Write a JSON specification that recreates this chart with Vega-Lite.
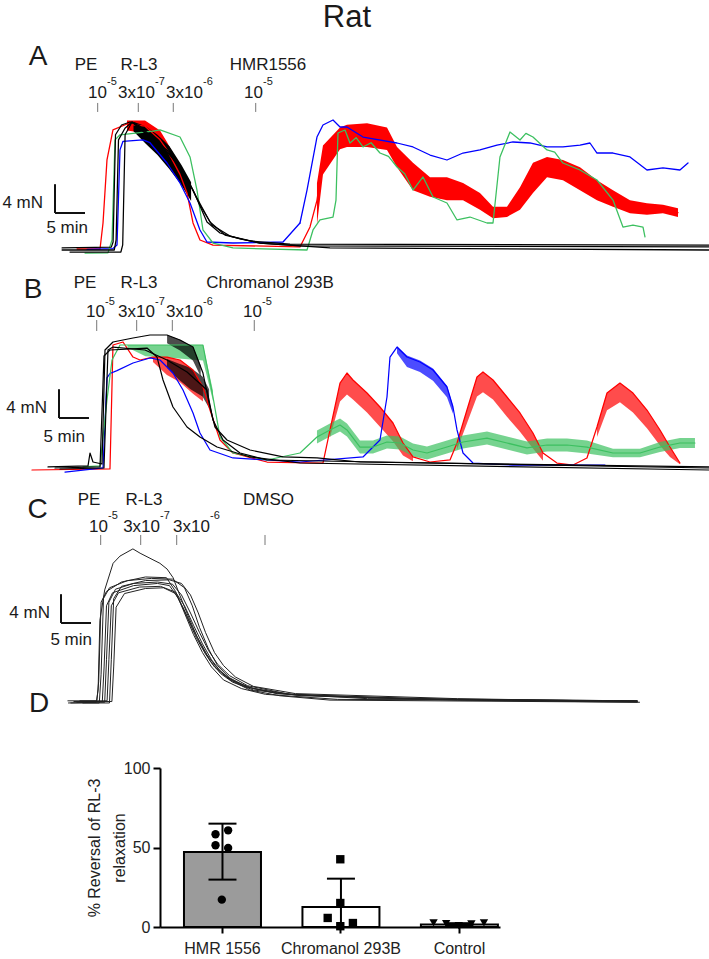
{
"$schema":"https://vega.github.io/schema/vega-lite/v6.json",
"padding":0,
"background":"white",
"config":{"view":{"stroke":null},"font":"Liberation Sans",
"axisY":{"titleFontSize":16,"titleFontWeight":"normal","titleFont":"Liberation Sans","titleColor":"#222222","titleLineHeight":25,"titlePadding":-4,"labelFontSize":16,"labelFont":"Liberation Sans","labelColor":"#222222","domainColor":"#000000","domainWidth":2,"tickColor":"#000000","tickWidth":2,"tickSize":7,"labelPadding":3,"grid":false},
"axisX":{"labelAngle":0,"labelFontSize":16,"labelFont":"Liberation Sans","labelColor":"#222222","domainColor":"#000000","domainWidth":2,"tickColor":"#000000","tickWidth":2,"tickSize":6,"labelPadding":7,"grid":false}
},
"datasets":{
"traces":[
{"p":"A","id":"Ar","s":"red","t":-3.4,"F":0.14},
{"p":"A","id":"Ar","s":"red","t":0.42,"F":0.14},
{"p":"A","id":"Ar","s":"red","t":0.92,"F":3.75},
{"p":"A","id":"Ar","s":"red","t":1.58,"F":12.5},
{"p":"A","id":"Ar","s":"red","t":2.58,"F":16.67},
{"p":"A","id":"Ar","s":"red","t":4.92,"F":17.5,"lo":16.6,"hi":18.0,"b":"Ar1"},
{"p":"A","id":"Ar","s":"red","t":7.92,"F":17.2,"lo":16.2,"hi":18.0,"b":"Ar1"},
{"p":"A","id":"Ar","s":"red","t":10.42,"F":15.3,"lo":14.2,"hi":16.6,"b":"Ar1"},
{"p":"A","id":"Ar","s":"red","t":11.58,"F":13.9,"lo":12.6,"hi":15.0,"b":"Ar1"},
{"p":"A","id":"Ar","s":"red","t":13.75,"F":10.5,"lo":9.4,"hi":11.6,"b":"Ar1"},
{"p":"A","id":"Ar","s":"red","t":14.92,"F":7.92},
{"p":"A","id":"Ar","s":"red","t":15.92,"F":3.75},
{"p":"A","id":"Ar","s":"red","t":17.08,"F":1.39},
{"p":"A","id":"Ar","s":"red","t":19.25,"F":0.69},
{"p":"A","id":"Ar","s":"red","t":33.75,"F":0.42},
{"p":"A","id":"Ar","s":"red","t":35.42,"F":3.2},
{"p":"A","id":"Ar","s":"red","t":36.58,"F":6.9,"lo":3.5,"hi":9.3,"b":"Ar2"},
{"p":"A","id":"Ar","s":"red","t":37.58,"F":12.5,"lo":10.5,"hi":14.5,"b":"Ar2"},
{"p":"A","id":"Ar","s":"red","t":40.42,"F":15.5,"lo":14.0,"hi":17.0,"b":"Ar2"},
{"p":"A","id":"Ar","s":"red","t":41.58,"F":15.8,"lo":14.3,"hi":17.4,"b":"Ar2"},
{"p":"A","id":"Ar","s":"red","t":44.92,"F":15.8,"lo":14.3,"hi":17.6,"b":"Ar2"},
{"p":"A","id":"Ar","s":"red","t":48.25,"F":15.4,"lo":13.9,"hi":17.0,"b":"Ar2"},
{"p":"A","id":"Ar","s":"red","t":49.92,"F":12.9,"lo":11.5,"hi":14.3,"b":"Ar2"},
{"p":"A","id":"Ar","s":"red","t":52.58,"F":10.2,"lo":8.3,"hi":12.1,"b":"Ar2"},
{"p":"A","id":"Ar","s":"red","t":55.42,"F":8.7,"lo":7.4,"hi":10.1,"b":"Ar2"},
{"p":"A","id":"Ar","s":"red","t":58.25,"F":8.5,"lo":6.9,"hi":10.1,"b":"Ar2"},
{"p":"A","id":"Ar","s":"red","t":60.92,"F":8.1,"lo":6.9,"hi":9.3,"b":"Ar2"},
{"p":"A","id":"Ar","s":"red","t":63.75,"F":6.7,"lo":5.6,"hi":7.9,"b":"Ar2"},
{"p":"A","id":"Ar","s":"red","t":65.92,"F":5.2,"lo":4.4,"hi":6.0,"b":"Ar2"},
{"p":"A","id":"Ar","s":"red","t":68.25,"F":5.3,"lo":4.6,"hi":6.0,"b":"Ar2"},
{"p":"A","id":"Ar","s":"red","t":70.42,"F":7.1,"lo":5.6,"hi":8.7,"b":"Ar2"},
{"p":"A","id":"Ar","s":"red","t":72.58,"F":10.0,"lo":7.9,"hi":12.1,"b":"Ar2"},
{"p":"A","id":"Ar","s":"red","t":74.92,"F":11.5,"lo":10.1,"hi":12.9,"b":"Ar2"},
{"p":"A","id":"Ar","s":"red","t":77.58,"F":11.1,"lo":9.7,"hi":12.5,"b":"Ar2"},
{"p":"A","id":"Ar","s":"red","t":80.42,"F":9.9,"lo":8.3,"hi":11.5,"b":"Ar2"},
{"p":"A","id":"Ar","s":"red","t":83.25,"F":8.3,"lo":6.9,"hi":9.7,"b":"Ar2"},
{"p":"A","id":"Ar","s":"red","t":85.92,"F":7.1,"lo":6.0,"hi":8.3,"b":"Ar2"},
{"p":"A","id":"Ar","s":"red","t":88.75,"F":6.0,"lo":5.1,"hi":6.9,"b":"Ar2"},
{"p":"A","id":"Ar","s":"red","t":91.58,"F":5.7,"lo":4.9,"hi":6.5,"b":"Ar2"},
{"p":"A","id":"Ar","s":"red","t":94.25,"F":5.7,"lo":5.1,"hi":6.3,"b":"Ar2"},
{"p":"A","id":"Ar","s":"red","t":96.75,"F":5.2,"lo":4.6,"hi":5.8,"b":"Ar2"},
{"p":"A","id":"Ab","s":"blue","t":-1.75,"F":0.1},
{"p":"A","id":"Ab","s":"blue","t":2.58,"F":0.2},
{"p":"A","id":"Ab","s":"blue","t":3.25,"F":0.7},
{"p":"A","id":"Ab","s":"blue","t":3.75,"F":13.9},
{"p":"A","id":"Ab","s":"blue","t":4.25,"F":15.1},
{"p":"A","id":"Ab","s":"blue","t":7.58,"F":15.3},
{"p":"A","id":"Ab","s":"blue","t":8.75,"F":14.9},
{"p":"A","id":"Ab","s":"blue","t":11.58,"F":12.08},
{"p":"A","id":"Ab","s":"blue","t":13.75,"F":9.31},
{"p":"A","id":"Ab","s":"blue","t":15.42,"F":6.53},
{"p":"A","id":"Ab","s":"blue","t":17.08,"F":2.78},
{"p":"A","id":"Ab","s":"blue","t":18.25,"F":1.11},
{"p":"A","id":"Ab","s":"blue","t":22.58,"F":0.97},
{"p":"A","id":"Ab","s":"blue","t":30.92,"F":1.11},
{"p":"A","id":"Ab","s":"blue","t":33.75,"F":3.75},
{"p":"A","id":"Ab2","s":"blue","t":33.75,"F":3.75},
{"p":"A","id":"Ab2","s":"blue","t":34.92,"F":8.33},
{"p":"A","id":"Ab2","s":"blue","t":36.58,"F":15.69},
{"p":"A","id":"Ab2","s":"blue","t":37.58,"F":17.36},
{"p":"A","id":"Ab2","s":"blue","t":39.25,"F":18.06},
{"p":"A","id":"Ab2","s":"blue","t":40.42,"F":17.08},
{"p":"A","id":"Ab2","s":"blue","t":41.58,"F":17.08},
{"p":"A","id":"Ab2","s":"blue","t":44.25,"F":15.69},
{"p":"A","id":"Ab2","s":"blue","t":49.92,"F":14.86},
{"p":"A","id":"Ab2","s":"blue","t":52.58,"F":14.31},
{"p":"A","id":"Ab2","s":"blue","t":55.42,"F":13.19},
{"p":"A","id":"Ab2","s":"blue","t":58.25,"F":12.5},
{"p":"A","id":"Ab2","s":"blue","t":60.92,"F":13.47},
{"p":"A","id":"Ab2","s":"blue","t":63.75,"F":13.89},
{"p":"A","id":"Ab2","s":"blue","t":66.58,"F":14.58},
{"p":"A","id":"Ab2","s":"blue","t":69.25,"F":15.0},
{"p":"A","id":"Ab2","s":"blue","t":72.08,"F":14.86},
{"p":"A","id":"Ab2","s":"blue","t":74.92,"F":14.31},
{"p":"A","id":"Ab2","s":"blue","t":77.58,"F":14.31},
{"p":"A","id":"Ab2","s":"blue","t":80.42,"F":14.58},
{"p":"A","id":"Ab2","s":"blue","t":82.08,"F":14.86},
{"p":"A","id":"Ab2","s":"blue","t":83.25,"F":13.47},
{"p":"A","id":"Ab2","s":"blue","t":85.92,"F":13.47},
{"p":"A","id":"Ab2","s":"blue","t":88.75,"F":12.92},
{"p":"A","id":"Ab2","s":"blue","t":91.58,"F":11.11},
{"p":"A","id":"Ab2","s":"blue","t":94.25,"F":11.39},
{"p":"A","id":"Ab2","s":"blue","t":97.08,"F":11.11},
{"p":"A","id":"Ab2","s":"blue","t":98.42,"F":12.08},
{"p":"A","id":"Ag","s":"green","t":-2.08,"F":-0.42},
{"p":"A","id":"Ag","s":"green","t":1.75,"F":-0.4},
{"p":"A","id":"Ag","s":"green","t":2.42,"F":1.4},
{"p":"A","id":"Ag","s":"green","t":2.92,"F":15.3},
{"p":"A","id":"Ag","s":"green","t":3.75,"F":16.0},
{"p":"A","id":"Ag","s":"green","t":9.25,"F":16.5},
{"p":"A","id":"Ag","s":"green","t":10.42,"F":16.67},
{"p":"A","id":"Ag","s":"green","t":13.75,"F":15.69},
{"p":"A","id":"Ag","s":"green","t":15.42,"F":12.92},
{"p":"A","id":"Ag","s":"green","t":16.58,"F":8.33},
{"p":"A","id":"Ag","s":"green","t":17.58,"F":2.78},
{"p":"A","id":"Ag","s":"green","t":19.25,"F":0.97},
{"p":"A","id":"Ag","s":"green","t":22.58,"F":0.28},
{"p":"A","id":"Ag","s":"green","t":34.92,"F":0},
{"p":"A","id":"Ag","s":"green","t":35.92,"F":2.78},
{"p":"A","id":"Ag","s":"green","t":37.08,"F":4.17},
{"p":"A","id":"Ag","s":"green","t":39.25,"F":4.58},
{"p":"A","id":"Ag","s":"green","t":39.75,"F":6.94},
{"p":"A","id":"Ag","s":"green","t":40.08,"F":16.25},
{"p":"A","id":"Ag","s":"green","t":41.25,"F":16.67},
{"p":"A","id":"Ag","s":"green","t":42.08,"F":14.86},
{"p":"A","id":"Ag","s":"green","t":43.1,"F":15.6},
{"p":"A","id":"Ag","s":"green","t":44.25,"F":14.31},
{"p":"A","id":"Ag","s":"green","t":45.6,"F":14.9},
{"p":"A","id":"Ag","s":"green","t":47.08,"F":13.47},
{"p":"A","id":"Ag","s":"green","t":48.5,"F":13.0},
{"p":"A","id":"Ag","s":"green","t":49.92,"F":11.53},
{"p":"A","id":"Ag","s":"green","t":51.2,"F":10.6},
{"p":"A","id":"Ag","s":"green","t":52.58,"F":8.33},
{"p":"A","id":"Ag","s":"green","t":54.25,"F":10.14},
{"p":"A","id":"Ag","s":"green","t":55.92,"F":7.36},
{"p":"A","id":"Ag","s":"green","t":58.25,"F":6.53},
{"p":"A","id":"Ag","s":"green","t":59.92,"F":4.17},
{"p":"A","id":"Ag","s":"green","t":62.08,"F":4.58},
{"p":"A","id":"Ag","s":"green","t":64.92,"F":3.75},
{"p":"A","id":"Ag","s":"green","t":65.92,"F":3.75},
{"p":"A","id":"Ag","s":"green","t":67.08,"F":12.92},
{"p":"A","id":"Ag","s":"green","t":68.75,"F":16.39},
{"p":"A","id":"Ag","s":"green","t":70.42,"F":15.28},
{"p":"A","id":"Ag","s":"green","t":71.4,"F":16.2},
{"p":"A","id":"Ag","s":"green","t":72.58,"F":15.69},
{"p":"A","id":"Ag","s":"green","t":74.92,"F":13.89},
{"p":"A","id":"Ag","s":"green","t":76.2,"F":13.6},
{"p":"A","id":"Ag","s":"green","t":77.58,"F":12.08},
{"p":"A","id":"Ag","s":"green","t":80.42,"F":11.11},
{"p":"A","id":"Ag","s":"green","t":83.25,"F":9.72},
{"p":"A","id":"Ag","s":"green","t":85.92,"F":6.94},
{"p":"A","id":"Ag","s":"green","t":87.58,"F":3.19},
{"p":"A","id":"Ag","s":"green","t":89.25,"F":3.47},
{"p":"A","id":"Ag","s":"green","t":90.92,"F":3.19},
{"p":"A","id":"Ag","s":"green","t":91.25,"F":1.81},
{"p":"A","id":"Ak1","s":"black","t":-5.9,"F":0},
{"p":"A","id":"Ak1","s":"black","t":2.8,"F":0},
{"p":"A","id":"Ak1","s":"black","t":3.1,"F":1.4},
{"p":"A","id":"Ak1","s":"black","t":3.5,"F":15.3},
{"p":"A","id":"Ak1","s":"black","t":4.58,"F":16.9},
{"p":"A","id":"Ak1","s":"black","t":5.75,"F":17.78},
{"p":"A","id":"Ak1","s":"black","t":7.08,"F":16.94},
{"p":"A","id":"Ak1","s":"black","t":8.75,"F":15.7},
{"p":"A","id":"Ak1","s":"black","t":11.58,"F":13.9},
{"p":"A","id":"Ak1","s":"black","t":13.75,"F":11.5},
{"p":"A","id":"Ak1","s":"black","t":15.92,"F":8.33},
{"p":"A","id":"Ak1","s":"black","t":18.25,"F":3.9},
{"p":"A","id":"Ak1","s":"black","t":20.42,"F":2.36},
{"p":"A","id":"Ak1","s":"black","t":23.75,"F":1.53},
{"p":"A","id":"Ak1","s":"black","t":27.08,"F":0.97},
{"p":"A","id":"Ak1","s":"black","t":33.75,"F":0.56},
{"p":"A","id":"Ak1","s":"black","t":101.9,"F":0.42},
{"p":"A","id":"Ak2","s":"black","t":-4.58,"F":-0.28},
{"p":"A","id":"Ak2","s":"black","t":3.9,"F":-0.28},
{"p":"A","id":"Ak2","s":"black","t":4.2,"F":0.7},
{"p":"A","id":"Ak2","s":"black","t":4.6,"F":16},
{"p":"A","id":"Ak2","s":"black","t":5.75,"F":17.78},
{"p":"A","id":"Ak2","s":"black","t":7.92,"F":16.25},
{"p":"A","id":"Ak2","s":"black","t":10.42,"F":14.58},
{"p":"A","id":"Ak2","s":"black","t":12.92,"F":12.5},
{"p":"A","id":"Ak2","s":"black","t":15.08,"F":9.72},
{"p":"A","id":"Ak2","s":"black","t":17.08,"F":6.25},
{"p":"A","id":"Ak2","s":"black","t":19.08,"F":3.47},
{"p":"A","id":"Ak2","s":"black","t":22.08,"F":1.94},
{"p":"A","id":"Ak2","s":"black","t":27.08,"F":0.97},
{"p":"A","id":"Ak2","s":"black","t":38.75,"F":0.28},
{"p":"A","id":"Ak2","s":"black","t":101.9,"F":0},
{"p":"A","id":"Ak3","s":"black","t":-5.9,"F":0.28},
{"p":"A","id":"Ak3","s":"black","t":2.3,"F":0.4},
{"p":"A","id":"Ak3","s":"black","t":2.6,"F":1.11},
{"p":"A","id":"Ak3","s":"black","t":3.0,"F":16},
{"p":"A","id":"Ak3","s":"black","t":4.0,"F":17.36},
{"p":"A","id":"Ak3","s":"black","t":5.42,"F":17.78},
{"p":"A","id":"Ak3","s":"black","t":7.08,"F":17.2},
{"p":"A","id":"Ak3","s":"black","t":9.58,"F":15.28},
{"p":"A","id":"Ak3","s":"black","t":12.08,"F":13.19},
{"p":"A","id":"Ak3","s":"black","t":14.58,"F":10.42},
{"p":"A","id":"Ak3","s":"black","t":16.75,"F":6.94},
{"p":"A","id":"Ak3","s":"black","t":18.75,"F":3.89},
{"p":"A","id":"Ak3","s":"black","t":21.25,"F":2.08},
{"p":"A","id":"Ak3","s":"black","t":25.42,"F":1.25},
{"p":"A","id":"Ak3","s":"black","t":32.08,"F":0.83},
{"p":"A","id":"Ak3","s":"black","t":101.9,"F":0.69},
{"p":"A","id":"Akb","s":"black","t":6.0,"lo":16.5,"hi":17.8,"b":"Akb"},
{"p":"A","id":"Akb","s":"black","t":8.0,"lo":14.8,"hi":17.2,"b":"Akb"},
{"p":"A","id":"Akb","s":"black","t":10.0,"lo":13.2,"hi":16.0,"b":"Akb"},
{"p":"A","id":"Akb","s":"black","t":12.0,"lo":11.2,"hi":14.4,"b":"Akb"},
{"p":"A","id":"Akb","s":"black","t":14.0,"lo":9.0,"hi":11.8,"b":"Akb"},
{"p":"A","id":"Akb","s":"black","t":15.6,"lo":6.8,"hi":9.4,"b":"Akb"},

{"p":"B","id":"Br","s":"red","t":-10.92,"F":0},
{"p":"B","id":"Br","s":"red","t":2.08,"F":0.14},
{"p":"B","id":"Br","s":"red","t":2.58,"F":17.36},
{"p":"B","id":"Br","s":"red","t":4.25,"F":17.78},
{"p":"B","id":"Br","s":"red","t":5.92,"F":15.69},
{"p":"B","id":"Br","s":"red","t":7.08,"F":15.28},
{"p":"B","id":"Br","s":"red","t":9.25,"F":15.69,"lo":15.0,"hi":15.69,"b":"Br1"},
{"p":"B","id":"Br","s":"red","t":11.58,"F":15.69,"lo":13.2,"hi":15.69,"b":"Br1"},
{"p":"B","id":"Br","s":"red","t":13.75,"F":15.28,"lo":12.2,"hi":15.28,"b":"Br1"},
{"p":"B","id":"Br","s":"red","t":15.92,"F":13.89,"lo":10.6,"hi":13.89,"b":"Br1"},
{"p":"B","id":"Br","s":"red","t":17.58,"F":11.53,"lo":9.5,"hi":11.53,"b":"Br1"},
{"p":"B","id":"Br","s":"red","t":18.75,"F":8.33},
{"p":"B","id":"Br","s":"red","t":20.42,"F":4.17},
{"p":"B","id":"Br","s":"red","t":22.58,"F":2.36},
{"p":"B","id":"Br","s":"red","t":28.25,"F":1.11},
{"p":"B","id":"Br","s":"red","t":37.58,"F":0.97},
{"p":"B","id":"Br","s":"red","t":38.75,"F":5.56,"lo":4.5,"hi":5.56,"b":"Br2"},
{"p":"B","id":"Br","s":"red","t":40.42,"F":12.08,"lo":9.5,"hi":12.08,"b":"Br2"},
{"p":"B","id":"Br","s":"red","t":41.58,"F":13.47,"lo":10.5,"hi":13.47,"b":"Br2"},
{"p":"B","id":"Br","s":"red","t":42.58,"F":12.5,"lo":9.8,"hi":12.5,"b":"Br2"},
{"p":"B","id":"Br","s":"red","t":44.92,"F":10.69,"lo":8.0,"hi":10.69,"b":"Br2"},
{"p":"B","id":"Br","s":"red","t":47.08,"F":8.75,"lo":6.0,"hi":8.75,"b":"Br2"},
{"p":"B","id":"Br","s":"red","t":49.25,"F":6.53,"lo":4.0,"hi":6.53,"b":"Br2"},
{"p":"B","id":"Br","s":"red","t":50.92,"F":3.75,"lo":2.0,"hi":3.75,"b":"Br2"},
{"p":"B","id":"Br","s":"red","t":52.58,"F":1.81,"lo":1.2,"hi":1.81,"b":"Br2"},
{"p":"B","id":"Br","s":"red","t":55.42,"F":1.11},
{"p":"B","id":"Br","s":"red","t":58.75,"F":1.39},
{"p":"B","id":"Br","s":"red","t":59.92,"F":3.75,"lo":2.8,"hi":3.75,"b":"Br3"},
{"p":"B","id":"Br","s":"red","t":61.58,"F":8.33,"lo":6.5,"hi":8.33,"b":"Br3"},
{"p":"B","id":"Br","s":"red","t":63.25,"F":12.92,"lo":10.2,"hi":12.92,"b":"Br3"},
{"p":"B","id":"Br","s":"red","t":64.25,"F":13.61,"lo":10.8,"hi":13.61,"b":"Br3"},
{"p":"B","id":"Br","s":"red","t":65.92,"F":12.5,"lo":9.8,"hi":12.5,"b":"Br3"},
{"p":"B","id":"Br","s":"red","t":68.25,"F":10.14,"lo":7.4,"hi":10.14,"b":"Br3"},
{"p":"B","id":"Br","s":"red","t":70.42,"F":7.92,"lo":5.3,"hi":7.92,"b":"Br3"},
{"p":"B","id":"Br","s":"red","t":72.58,"F":5.14,"lo":3.0,"hi":5.14,"b":"Br3"},
{"p":"B","id":"Br","s":"red","t":74.25,"F":2.36,"lo":1.3,"hi":2.36,"b":"Br3"},
{"p":"B","id":"Br","s":"red","t":76.58,"F":0.97},
{"p":"B","id":"Br","s":"red","t":79.25,"F":0.69},
{"p":"B","id":"Br","s":"red","t":81.58,"F":1.67},
{"p":"B","id":"Br","s":"red","t":83.25,"F":5.97,"lo":4.6,"hi":5.97,"b":"Br4"},
{"p":"B","id":"Br","s":"red","t":84.92,"F":10.69,"lo":8.3,"hi":10.69,"b":"Br4"},
{"p":"B","id":"Br","s":"red","t":87.08,"F":12.08,"lo":9.4,"hi":12.08,"b":"Br4"},
{"p":"B","id":"Br","s":"red","t":89.25,"F":10.69,"lo":8.0,"hi":10.69,"b":"Br4"},
{"p":"B","id":"Br","s":"red","t":91.58,"F":8.33,"lo":5.8,"hi":8.33,"b":"Br4"},
{"p":"B","id":"Br","s":"red","t":93.75,"F":5.56,"lo":3.4,"hi":5.56,"b":"Br4"},
{"p":"B","id":"Br","s":"red","t":95.42,"F":3.19,"lo":1.8,"hi":3.19,"b":"Br4"},
{"p":"B","id":"Br","s":"red","t":97.08,"F":0.97,"lo":0.8,"hi":0.97,"b":"Br4"},
{"p":"B","id":"Bb","s":"blue","t":-5.42,"F":-0.28},
{"p":"B","id":"Bb","s":"blue","t":0.92,"F":0.28},
{"p":"B","id":"Bb","s":"blue","t":1.58,"F":12.8},
{"p":"B","id":"Bb","s":"blue","t":2.08,"F":13.4},
{"p":"B","id":"Bb","s":"blue","t":3.25,"F":13.8},
{"p":"B","id":"Bb","s":"blue","t":5.92,"F":14.86},
{"p":"B","id":"Bb","s":"blue","t":8.75,"F":15.56},
{"p":"B","id":"Bb","s":"blue","t":10.42,"F":15.28},
{"p":"B","id":"Bb","s":"blue","t":12.58,"F":13.47},
{"p":"B","id":"Bb","s":"blue","t":14.25,"F":11.11},
{"p":"B","id":"Bb","s":"blue","t":15.92,"F":7.92},
{"p":"B","id":"Bb","s":"blue","t":17.08,"F":5.14},
{"p":"B","id":"Bb","s":"blue","t":18.75,"F":2.78},
{"p":"B","id":"Bb","s":"blue","t":22.58,"F":1.67},
{"p":"B","id":"Bb","s":"blue","t":33.75,"F":1.11},
{"p":"B","id":"Bb","s":"blue","t":44.25,"F":1.81},
{"p":"B","id":"Bb","s":"blue","t":47.08,"F":4.17},
{"p":"B","id":"Bb","s":"blue","t":48.25,"F":10.14},
{"p":"B","id":"Bb","s":"blue","t":48.75,"F":15.69},
{"p":"B","id":"Bb","s":"blue","t":49.92,"F":17.08,"lo":16.2,"hi":17.2,"b":"Bbb"},
{"p":"B","id":"Bb","s":"blue","t":51.58,"F":15.69,"lo":14.3,"hi":15.9,"b":"Bbb"},
{"p":"B","id":"Bb","s":"blue","t":53.75,"F":15.0,"lo":13.6,"hi":15.2,"b":"Bbb"},
{"p":"B","id":"Bb","s":"blue","t":55.92,"F":13.89,"lo":12.4,"hi":14.1,"b":"Bbb"},
{"p":"B","id":"Bb","s":"blue","t":58.25,"F":11.53,"lo":10.1,"hi":11.7,"b":"Bbb"},
{"p":"B","id":"Bb","s":"blue","t":59.25,"F":8.75,"lo":7.8,"hi":8.9,"b":"Bbb"},
{"p":"B","id":"Bb","s":"blue","t":59.92,"F":5.56},
{"p":"B","id":"Bb","s":"blue","t":60.92,"F":2.36},
{"p":"B","id":"Bb","s":"blue","t":62.58,"F":0.97},
{"p":"B","id":"Bb","s":"blue","t":69.25,"F":0.69},
{"p":"B","id":"Bb","s":"blue","t":84.58,"F":0.69},
{"p":"B","id":"Bg","s":"green","t":-2.42,"F":0.42},
{"p":"B","id":"Bg","s":"green","t":0.42,"F":0.56},
{"p":"B","id":"Bg","s":"green","t":1.58,"F":9.72},
{"p":"B","id":"Bg","s":"green","t":2.42,"F":15.28},
{"p":"B","id":"Bg","s":"green","t":3.75,"F":17.36},
{"p":"B","id":"Bg","s":"green","t":17.58,"F":17.36},
{"p":"B","id":"Bg","s":"green","t":19.25,"F":10.14},
{"p":"B","id":"Bg","s":"green","t":20.42,"F":4.58},
{"p":"B","id":"Bg","s":"green","t":22.58,"F":2.36},
{"p":"B","id":"Bg","s":"green","t":28.25,"F":1.39},
{"p":"B","id":"Bg","s":"green","t":33.75,"F":2.36},
{"p":"B","id":"Bg","s":"green","t":36.58,"F":4.58,"lo":3.68,"hi":5.48,"b":"Bg2"},
{"p":"B","id":"Bg","s":"green","t":38.75,"F":5.56,"lo":4.66,"hi":6.46,"b":"Bg2"},
{"p":"B","id":"Bg","s":"green","t":40.42,"F":6.25,"lo":5.35,"hi":7.15,"b":"Bg2"},
{"p":"B","id":"Bg","s":"green","t":41.58,"F":5.56,"lo":4.66,"hi":6.46,"b":"Bg2"},
{"p":"B","id":"Bg","s":"green","t":43.75,"F":3.19,"lo":2.29,"hi":4.09,"b":"Bg2"},
{"p":"B","id":"Bg","s":"green","t":45.92,"F":3.19,"lo":2.29,"hi":4.09,"b":"Bg2"},
{"p":"B","id":"Bg","s":"green","t":48.25,"F":3.89,"lo":2.99,"hi":4.79,"b":"Bg2"},
{"p":"B","id":"Bg","s":"green","t":50.42,"F":3.75,"lo":2.85,"hi":4.65,"b":"Bg2"},
{"p":"B","id":"Bg","s":"green","t":52.58,"F":2.78,"lo":1.88,"hi":3.68,"b":"Bg2"},
{"p":"B","id":"Bg","s":"green","t":54.92,"F":2.36,"lo":1.46,"hi":3.26,"b":"Bg2"},
{"p":"B","id":"Bg","s":"green","t":58.25,"F":3.19,"lo":2.29,"hi":4.09,"b":"Bg2"},
{"p":"B","id":"Bg","s":"green","t":60.92,"F":3.89,"lo":2.99,"hi":4.79,"b":"Bg2"},
{"p":"B","id":"Bg","s":"green","t":64.92,"F":4.44,"lo":3.54,"hi":5.34,"b":"Bg2"},
{"p":"B","id":"Bg","s":"green","t":68.25,"F":3.75,"lo":2.85,"hi":4.65,"b":"Bg2"},
{"p":"B","id":"Bg","s":"green","t":71.58,"F":3.06,"lo":2.16,"hi":3.96,"b":"Bg2"},
{"p":"B","id":"Bg","s":"green","t":74.92,"F":3.47,"lo":2.57,"hi":4.37,"b":"Bg2"},
{"p":"B","id":"Bg","s":"green","t":78.25,"F":3.47,"lo":2.57,"hi":4.37,"b":"Bg2"},
{"p":"B","id":"Bg","s":"green","t":81.58,"F":3.19,"lo":2.29,"hi":4.09,"b":"Bg2"},
{"p":"B","id":"Bg","s":"green","t":85.92,"F":2.36,"lo":1.76,"hi":2.96,"b":"Bg2"},
{"p":"B","id":"Bg","s":"green","t":90.42,"F":2.36,"lo":1.76,"hi":2.96,"b":"Bg2"},
{"p":"B","id":"Bg","s":"green","t":93.75,"F":3.19,"lo":2.49,"hi":3.89,"b":"Bg2"},
{"p":"B","id":"Bg","s":"green","t":97.08,"F":3.75,"lo":3.05,"hi":4.45,"b":"Bg2"},
{"p":"B","id":"Bg","s":"green","t":99.58,"F":3.75,"lo":3.05,"hi":4.45,"b":"Bg2"},
{"p":"B","id":"Bgb","s":"green","t":5.0,"lo":17.0,"hi":17.36,"b":"Bg1"},
{"p":"B","id":"Bgb","s":"green","t":8.0,"lo":15.8,"hi":17.36,"b":"Bg1"},
{"p":"B","id":"Bgb","s":"green","t":12.0,"lo":15.6,"hi":17.36,"b":"Bg1"},
{"p":"B","id":"Bgb","s":"green","t":17.58,"lo":15.2,"hi":17.36,"b":"Bg1"},
{"p":"B","id":"Bgb","s":"green","t":19.25,"lo":9.6,"hi":11.0,"b":"Bg1"},
{"p":"B","id":"Bk1","s":"black","t":-8.25,"F":0.42},
{"p":"B","id":"Bk1","s":"black","t":-1.58,"F":0.56},
{"p":"B","id":"Bk1","s":"black","t":-1.25,"F":2.36},
{"p":"B","id":"Bk1","s":"black","t":-0.75,"F":1.11},
{"p":"B","id":"Bk1","s":"black","t":0.75,"F":0.83},
{"p":"B","id":"Bk1","s":"black","t":1.25,"F":16.67},
{"p":"B","id":"Bk1","s":"black","t":2.58,"F":17.78},
{"p":"B","id":"Bk1","s":"black","t":5.92,"F":18.33},
{"p":"B","id":"Bk1","s":"black","t":8.75,"F":18.75},
{"p":"B","id":"Bk1","s":"black","t":11.58,"F":18.75},
{"p":"B","id":"Bk1","s":"black","t":13.75,"F":18.06},
{"p":"B","id":"Bk1","s":"black","t":15.92,"F":17.08},
{"p":"B","id":"Bk1","s":"black","t":17.58,"F":13.47},
{"p":"B","id":"Bk1","s":"black","t":18.75,"F":8.75},
{"p":"B","id":"Bk1","s":"black","t":19.58,"F":5.97},
{"p":"B","id":"Bk1","s":"black","t":21.58,"F":4.17},
{"p":"B","id":"Bk1","s":"black","t":25.42,"F":2.78},
{"p":"B","id":"Bk1","s":"black","t":30.92,"F":1.81},
{"p":"B","id":"Bk1","s":"black","t":36.58,"F":1.67},
{"p":"B","id":"Bk1","s":"black","t":43.75,"F":1.11},
{"p":"B","id":"Bk1","s":"black","t":101.9,"F":0.42},
{"p":"B","id":"Bk2","s":"black","t":-7.08,"F":0.28},
{"p":"B","id":"Bk2","s":"black","t":0.42,"F":0.42},
{"p":"B","id":"Bk2","s":"black","t":1.08,"F":15.83},
{"p":"B","id":"Bk2","s":"black","t":2.08,"F":16.67},
{"p":"B","id":"Bk2","s":"black","t":8.25,"F":16.94},
{"p":"B","id":"Bk2","s":"black","t":9.92,"F":15.69},
{"p":"B","id":"Bk2","s":"black","t":10.92,"F":12.5},
{"p":"B","id":"Bk2","s":"black","t":12.58,"F":8.75},
{"p":"B","id":"Bk2","s":"black","t":14.92,"F":5.97},
{"p":"B","id":"Bk2","s":"black","t":17.08,"F":4.58},
{"p":"B","id":"Bk2","s":"black","t":19.92,"F":3.19},
{"p":"B","id":"Bk2","s":"black","t":25.42,"F":1.81},
{"p":"B","id":"Bk2","s":"black","t":33.75,"F":0.97},
{"p":"B","id":"Bk2","s":"black","t":101.9,"F":0},
{"p":"B","id":"Bk3","s":"black","t":-6.25,"F":0.14},
{"p":"B","id":"Bk3","s":"black","t":1.08,"F":0.28},
{"p":"B","id":"Bk3","s":"black","t":1.75,"F":16.67},
{"p":"B","id":"Bk3","s":"black","t":2.58,"F":17.08},
{"p":"B","id":"Bk3","s":"black","t":7.92,"F":16.67},
{"p":"B","id":"Bk3","s":"black","t":11.58,"F":15.28},
{"p":"B","id":"Bk3","s":"black","t":14.92,"F":13.61},
{"p":"B","id":"Bk3","s":"black","t":18.25,"F":11.11},
{"p":"B","id":"Bk3","s":"black","t":19.25,"F":6.94},
{"p":"B","id":"Bk3","s":"black","t":20.92,"F":4.17},
{"p":"B","id":"Bk3","s":"black","t":23.75,"F":2.36},
{"p":"B","id":"Bk3","s":"black","t":28.25,"F":1.39},
{"p":"B","id":"Bk3","s":"black","t":101.9,"F":0.28},
{"p":"B","id":"Bkb","s":"black","t":11.6,"lo":17.6,"hi":18.75,"b":"Bkb1"},
{"p":"B","id":"Bkb","s":"black","t":13.75,"lo":16.6,"hi":18.1,"b":"Bkb1"},
{"p":"B","id":"Bkb","s":"black","t":15.9,"lo":15.2,"hi":17.1,"b":"Bkb1"},
{"p":"B","id":"Bkb","s":"black","t":17.2,"lo":13.0,"hi":14.5,"b":"Bkb1"},
{"p":"B","id":"Bkb","s":"black","t":11.58,"lo":14.2,"hi":15.4,"b":"Bkb3"},
{"p":"B","id":"Bkb","s":"black","t":13.5,"lo":12.6,"hi":14.8,"b":"Bkb3"},
{"p":"B","id":"Bkb","s":"black","t":15.5,"lo":11.2,"hi":14.2,"b":"Bkb3"},
{"p":"B","id":"Bkb","s":"black","t":17.5,"lo":10.2,"hi":13.0,"b":"Bkb3"},
{"p":"B","id":"Bkb","s":"black","t":18.6,"lo":8.6,"hi":11.2,"b":"Bkb3"},

{"p":"C","id":"C1","s":"black","t":-4.9,"F":0},
{"p":"C","id":"C1","s":"black","t":-0.2,"F":0.1},
{"p":"C","id":"C1","s":"black","t":0.1,"F":1.8},
{"p":"C","id":"C1","s":"black","t":0.4,"F":11.5},
{"p":"C","id":"C1","s":"black","t":1.2,"F":15.7},
{"p":"C","id":"C1","s":"black","t":2.6,"F":19.4},
{"p":"C","id":"C1","s":"black","t":3.75,"F":20.4},
{"p":"C","id":"C1","s":"black","t":5.9,"F":21.4},
{"p":"C","id":"C1","s":"black","t":7.1,"F":20.8},
{"p":"C","id":"C1","s":"black","t":8.75,"F":20.1},
{"p":"C","id":"C1","s":"black","t":10.4,"F":19.4},
{"p":"C","id":"C1","s":"black","t":11.6,"F":18.6},
{"p":"C","id":"C1","s":"black","t":12.6,"F":17.4},
{"p":"C","id":"C1","s":"black","t":13.75,"F":14.9},
{"p":"C","id":"C1","s":"black","t":15.1,"F":12.1},
{"p":"C","id":"C1","s":"black","t":16.6,"F":9.2},
{"p":"C","id":"C1","s":"black","t":18.25,"F":6.7},
{"p":"C","id":"C1","s":"black","t":19.9,"F":4.9},
{"p":"C","id":"C1","s":"black","t":22.1,"F":3.2},
{"p":"C","id":"C1","s":"black","t":25.4,"F":1.8},
{"p":"C","id":"C1","s":"black","t":30.4,"F":1.0},
{"p":"C","id":"C1","s":"black","t":38.75,"F":0.4},
{"p":"C","id":"C1","s":"black","t":90.4,"F":0.1},
{"p":"C","id":"C2","s":"black","t":-5,"F":0.3},
{"p":"C","id":"C2","s":"black","t":-0.1,"F":0.3},
{"p":"C","id":"C2","s":"black","t":0.2,"F":3},
{"p":"C","id":"C2","s":"black","t":0.6,"F":14},
{"p":"C","id":"C2","s":"black","t":1.5,"F":15.5},
{"p":"C","id":"C2","s":"black","t":4,"F":16.8},
{"p":"C","id":"C2","s":"black","t":8,"F":17.5},
{"p":"C","id":"C2","s":"black","t":11.5,"F":17.4},
{"p":"C","id":"C2","s":"black","t":13,"F":15.5},
{"p":"C","id":"C2","s":"black","t":14.5,"F":12.5},
{"p":"C","id":"C2","s":"black","t":16,"F":9.5},
{"p":"C","id":"C2","s":"black","t":17.5,"F":7},
{"p":"C","id":"C2","s":"black","t":19,"F":5},
{"p":"C","id":"C2","s":"black","t":21,"F":3.2},
{"p":"C","id":"C2","s":"black","t":24,"F":2},
{"p":"C","id":"C2","s":"black","t":28,"F":1.2},
{"p":"C","id":"C2","s":"black","t":40,"F":0.5},
{"p":"C","id":"C2","s":"black","t":90,"F":0.3},
{"p":"C","id":"C3","s":"black","t":-4.5,"F":0},
{"p":"C","id":"C3","s":"black","t":0.3,"F":0},
{"p":"C","id":"C3","s":"black","t":0.6,"F":4},
{"p":"C","id":"C3","s":"black","t":1.0,"F":14.5},
{"p":"C","id":"C3","s":"black","t":2,"F":16},
{"p":"C","id":"C3","s":"black","t":5,"F":17},
{"p":"C","id":"C3","s":"black","t":9,"F":17.3},
{"p":"C","id":"C3","s":"black","t":12.5,"F":17.2},
{"p":"C","id":"C3","s":"black","t":14.5,"F":16},
{"p":"C","id":"C3","s":"black","t":15.8,"F":13.5},
{"p":"C","id":"C3","s":"black","t":17,"F":10.5},
{"p":"C","id":"C3","s":"black","t":18.5,"F":7.5},
{"p":"C","id":"C3","s":"black","t":20,"F":5.2},
{"p":"C","id":"C3","s":"black","t":22,"F":3.5},
{"p":"C","id":"C3","s":"black","t":25,"F":2.2},
{"p":"C","id":"C3","s":"black","t":30,"F":1.3},
{"p":"C","id":"C3","s":"black","t":45,"F":0.6},
{"p":"C","id":"C3","s":"black","t":90,"F":0.2},
{"p":"C","id":"C4","s":"black","t":-4,"F":0.2},
{"p":"C","id":"C4","s":"black","t":0.8,"F":0.2},
{"p":"C","id":"C4","s":"black","t":1.1,"F":5},
{"p":"C","id":"C4","s":"black","t":1.5,"F":13.5},
{"p":"C","id":"C4","s":"black","t":2.5,"F":15.3},
{"p":"C","id":"C4","s":"black","t":6,"F":16.3},
{"p":"C","id":"C4","s":"black","t":10,"F":16.6},
{"p":"C","id":"C4","s":"black","t":12,"F":16.3},
{"p":"C","id":"C4","s":"black","t":13.5,"F":14.5},
{"p":"C","id":"C4","s":"black","t":15,"F":11.8},
{"p":"C","id":"C4","s":"black","t":16.5,"F":9},
{"p":"C","id":"C4","s":"black","t":18,"F":6.8},
{"p":"C","id":"C4","s":"black","t":19.5,"F":5},
{"p":"C","id":"C4","s":"black","t":21.5,"F":3.6},
{"p":"C","id":"C4","s":"black","t":24.5,"F":2.3},
{"p":"C","id":"C4","s":"black","t":30,"F":1.3},
{"p":"C","id":"C4","s":"black","t":50,"F":0.6},
{"p":"C","id":"C4","s":"black","t":90,"F":0.3},
{"p":"C","id":"C5","s":"black","t":-3.5,"F":0.1},
{"p":"C","id":"C5","s":"black","t":1.2,"F":0.1},
{"p":"C","id":"C5","s":"black","t":1.5,"F":6},
{"p":"C","id":"C5","s":"black","t":1.9,"F":14},
{"p":"C","id":"C5","s":"black","t":3,"F":15.8},
{"p":"C","id":"C5","s":"black","t":6,"F":16.6},
{"p":"C","id":"C5","s":"black","t":10,"F":16.8},
{"p":"C","id":"C5","s":"black","t":12.5,"F":16.5},
{"p":"C","id":"C5","s":"black","t":14,"F":15},
{"p":"C","id":"C5","s":"black","t":15.5,"F":12.5},
{"p":"C","id":"C5","s":"black","t":17,"F":9.8},
{"p":"C","id":"C5","s":"black","t":18.5,"F":7.3},
{"p":"C","id":"C5","s":"black","t":20,"F":5.4},
{"p":"C","id":"C5","s":"black","t":22,"F":3.8},
{"p":"C","id":"C5","s":"black","t":25,"F":2.4},
{"p":"C","id":"C5","s":"black","t":32,"F":1.2},
{"p":"C","id":"C5","s":"black","t":55,"F":0.5},
{"p":"C","id":"C5","s":"black","t":90,"F":0.2},
{"p":"C","id":"C6","s":"black","t":-3,"F":0.3},
{"p":"C","id":"C6","s":"black","t":1.6,"F":0.3},
{"p":"C","id":"C6","s":"black","t":1.9,"F":6},
{"p":"C","id":"C6","s":"black","t":2.3,"F":13.5},
{"p":"C","id":"C6","s":"black","t":3.5,"F":15.3},
{"p":"C","id":"C6","s":"black","t":7,"F":16.1},
{"p":"C","id":"C6","s":"black","t":10.5,"F":16.2},
{"p":"C","id":"C6","s":"black","t":13,"F":15.4},
{"p":"C","id":"C6","s":"black","t":14.5,"F":13.5},
{"p":"C","id":"C6","s":"black","t":16,"F":10.8},
{"p":"C","id":"C6","s":"black","t":17.5,"F":8.2},
{"p":"C","id":"C6","s":"black","t":19,"F":6},
{"p":"C","id":"C6","s":"black","t":20.5,"F":4.4},
{"p":"C","id":"C6","s":"black","t":22.5,"F":3.1},
{"p":"C","id":"C6","s":"black","t":26,"F":2},
{"p":"C","id":"C6","s":"black","t":33,"F":1.1},
{"p":"C","id":"C6","s":"black","t":60,"F":0.5},
{"p":"C","id":"C6","s":"black","t":90,"F":0.3},
{"p":"C","id":"C7","s":"black","t":-2.5,"F":0},
{"p":"C","id":"C7","s":"black","t":2.0,"F":0},
{"p":"C","id":"C7","s":"black","t":2.3,"F":6},
{"p":"C","id":"C7","s":"black","t":2.7,"F":14.5},
{"p":"C","id":"C7","s":"black","t":4,"F":16.2},
{"p":"C","id":"C7","s":"black","t":8,"F":17},
{"p":"C","id":"C7","s":"black","t":12,"F":17.1},
{"p":"C","id":"C7","s":"black","t":14,"F":16.6},
{"p":"C","id":"C7","s":"black","t":15.5,"F":15},
{"p":"C","id":"C7","s":"black","t":16.8,"F":12.5},
{"p":"C","id":"C7","s":"black","t":18,"F":9.8},
{"p":"C","id":"C7","s":"black","t":19.5,"F":7},
{"p":"C","id":"C7","s":"black","t":21,"F":5.2},
{"p":"C","id":"C7","s":"black","t":23,"F":3.6},
{"p":"C","id":"C7","s":"black","t":26,"F":2.3},
{"p":"C","id":"C7","s":"black","t":33,"F":1.3},
{"p":"C","id":"C7","s":"black","t":60,"F":0.6},
{"p":"C","id":"C7","s":"black","t":90,"F":0.2},
{"p":"C","id":"C8","s":"black","t":-2,"F":0.2},
{"p":"C","id":"C8","s":"black","t":2.4,"F":0.2},
{"p":"C","id":"C8","s":"black","t":2.7,"F":5},
{"p":"C","id":"C8","s":"black","t":3.1,"F":13.3},
{"p":"C","id":"C8","s":"black","t":4.5,"F":15.2},
{"p":"C","id":"C8","s":"black","t":8,"F":15.9},
{"p":"C","id":"C8","s":"black","t":11,"F":16.0},
{"p":"C","id":"C8","s":"black","t":13,"F":15.2},
{"p":"C","id":"C8","s":"black","t":14.3,"F":13.2},
{"p":"C","id":"C8","s":"black","t":15.8,"F":10.5},
{"p":"C","id":"C8","s":"black","t":17.3,"F":8},
{"p":"C","id":"C8","s":"black","t":18.8,"F":5.8},
{"p":"C","id":"C8","s":"black","t":20.5,"F":4.1},
{"p":"C","id":"C8","s":"black","t":22.5,"F":2.9},
{"p":"C","id":"C8","s":"black","t":26,"F":1.8},
{"p":"C","id":"C8","s":"black","t":34,"F":1.0},
{"p":"C","id":"C8","s":"black","t":60,"F":0.4},
{"p":"C","id":"C8","s":"black","t":90,"F":0.1}
],
"labels":[
{"p":"A","k":"title","txt":"Rat","t":41.58,"F":30.97},
{"p":"A","k":"letter","txt":"A","t":-9.92,"F":25.69},
{"p":"A","k":"head","txt":"PE","t":-1.92,"F":25.0},
{"p":"A","k":"head","txt":"R-L3","t":6.92,"F":25.0},
{"p":"A","k":"head","txt":"HMR1556","t":28.42,"F":25.0},
{"p":"A","k":"conc","txt":"10","t":1.58,"F":21.11},
{"p":"A","k":"sup","txt":"-5","t":1.58,"F":22.92},
{"p":"A","k":"conc","txt":"3x10","t":9.58,"F":21.11},
{"p":"A","k":"sup","txt":"-7","t":9.58,"F":22.92},
{"p":"A","k":"conc","txt":"3x10","t":17.58,"F":21.11},
{"p":"A","k":"sup","txt":"-6","t":17.58,"F":22.92},
{"p":"A","k":"conc","txt":"10","t":27.58,"F":21.11},
{"p":"A","k":"sup","txt":"-5","t":27.58,"F":22.92},
{"p":"A","k":"scale","txt":"4 mN","t":-9.08,"F":5.83},
{"p":"A","k":"scale","txt":"5 min","t":-1.58,"F":2.36},
{"p":"B","k":"letter","txt":"B","t":-10.75,"F":23.89},
{"p":"B","k":"head","txt":"PE","t":-2.08,"F":25.28},
{"p":"B","k":"head","txt":"R-L3","t":6.92,"F":25.28},
{"p":"B","k":"head","txt":"Chromanol 293B","t":28.75,"F":25.28},
{"p":"B","k":"conc","txt":"10","t":1.25,"F":21.25},
{"p":"B","k":"sup","txt":"-5","t":1.25,"F":22.92},
{"p":"B","k":"conc","txt":"3x10","t":9.58,"F":21.25},
{"p":"B","k":"sup","txt":"-7","t":9.58,"F":22.92},
{"p":"B","k":"conc","txt":"3x10","t":17.58,"F":21.25},
{"p":"B","k":"sup","txt":"-6","t":17.58,"F":22.92},
{"p":"B","k":"conc","txt":"10","t":27.42,"F":21.25},
{"p":"B","k":"sup","txt":"-5","t":27.42,"F":22.92},
{"p":"B","k":"scale","txt":"4 mN","t":-8.42,"F":7.92},
{"p":"B","k":"scale","txt":"5 min","t":-2.08,"F":3.89},
{"p":"C","k":"letter","txt":"C","t":-10.0,"F":25.69},
{"p":"C","k":"head","txt":"PE","t":-1.42,"F":27.5},
{"p":"C","k":"head","txt":"R-L3","t":7.75,"F":27.5},
{"p":"C","k":"head","txt":"DMSO","t":28.5,"F":27.5},
{"p":"C","k":"conc","txt":"10","t":1.75,"F":23.75},
{"p":"C","k":"sup","txt":"-5","t":1.75,"F":25.56},
{"p":"C","k":"conc","txt":"3x10","t":10.42,"F":23.75},
{"p":"C","k":"sup","txt":"-7","t":10.42,"F":25.56},
{"p":"C","k":"conc","txt":"3x10","t":18.75,"F":23.75},
{"p":"C","k":"sup","txt":"-6","t":18.75,"F":25.56},
{"p":"C","k":"scale","txt":"4 mN","t":-7.92,"F":11.81},
{"p":"C","k":"scale","txt":"5 min","t":-0.92,"F":8.06},
{"p":"D","k":"letter","txt":"D","t":39,"F":135.2}
],
"marks":[
{"p":"A","k":"tick","t":0.03,"F":19.17,"F2":20.42},
{"p":"A","k":"tick","t":6.8,"F":19.17,"F2":20.42},
{"p":"A","k":"tick","t":12.63,"F":19.17,"F2":20.42},
{"p":"A","k":"tick","t":26.37,"F":19.17,"F2":20.42},
{"p":"A","k":"bar","t":-7.08,"t2":-2.08,"F":5.14,"F2":9.14},
{"p":"B","k":"tick","t":-0.13,"F":19.31,"F2":20.83},
{"p":"B","k":"tick","t":6.53,"F":19.31,"F2":20.83},
{"p":"B","k":"tick","t":12.47,"F":19.31,"F2":20.83},
{"p":"B","k":"tick","t":26.13,"F":19.31,"F2":20.83},
{"p":"B","k":"bar","t":-6.42,"t2":-1.42,"F":7.22,"F2":11.22},
{"p":"C","k":"tick","t":0.53,"F":21.94,"F2":23.33},
{"p":"C","k":"tick","t":7.2,"F":21.94,"F2":23.33},
{"p":"C","k":"tick","t":13.2,"F":21.94,"F2":23.33},
{"p":"C","k":"tick","t":27.92,"F":21.94,"F2":23.33},
{"p":"C","k":"bar","t":-6.08,"t2":-1.08,"F":11.11,"F2":15.11}
],
"bars":[
{"cat":"HMR 1556","m":47.2,"lo":29.8,"hi":65.0},
{"cat":"Chromanol 293B","m":12.6,"lo":0,"hi":30.4},
{"cat":"Control","m":1.6,"lo":0.8,"hi":2.4}
],
"pts":[
{"cat":"HMR 1556","col":"L1","v":58.3},
{"cat":"HMR 1556","col":"R1","v":60.8},
{"cat":"HMR 1556","col":"L1","v":51.4},
{"cat":"HMR 1556","col":"R1","v":49.7},
{"cat":"HMR 1556","col":"C","v":17.2},
{"cat":"Chromanol 293B","col":"C","v":42.6},
{"cat":"Chromanol 293B","col":"C","v":15.1},
{"cat":"Chromanol 293B","col":"L2","v":5.7},
{"cat":"Chromanol 293B","col":"C","v":0.5},
{"cat":"Chromanol 293B","col":"R2","v":2.5},
{"cat":"Control","col":"L4","v":2.6},
{"cat":"Control","col":"L2","v":2.2},
{"cat":"Control","col":"C","v":0.8},
{"cat":"Control","col":"R2","v":2.0},
{"cat":"Control","col":"R4","v":2.6}
]
},
"vconcat":[
{
"width":709,"height":262,
"encoding":{
"x":{"field":"t","type":"quantitative","scale":{"domain":[-16.25,101.92],"nice":false,"zero":false},"axis":null},
"y":{"field":"F","type":"quantitative","scale":{"domain":[-1.667,34.72],"nice":false,"zero":false},"axis":null}
},
"layer":[
{"data":{"name":"traces"},"transform":[{"filter":"datum.p==='A' && isValid(datum.lo)"}],
"mark":{"type":"area","opacity":1},
"encoding":{"y":{"field":"lo","type":"quantitative","scale":{"domain":[-1.667,34.72],"nice":false,"zero":false},"axis":null},"y2":{"field":"hi"},"detail":{"field":"b"},
"color":{"field":"s","type":"nominal","scale":{"domain":["red","blue","green","black"],"range":["#ff0000","#0000ff","#3cc060","#000000"]},"legend":null}}},
{"data":{"name":"traces"},"transform":[{"filter":"datum.p==='A' && isValid(datum.F)"}],
"mark":{"type":"line","strokeJoin":"round","strokeCap":"round"},
"encoding":{"detail":{"field":"id"},
"color":{"field":"s","type":"nominal","scale":{"domain":["red","blue","green","black"],"range":["#ff0000","#0000ff","#3cc060","#000000"]},"legend":null},
"strokeWidth":{"field":"id","type":"nominal","scale":{"domain":["Ar","Ab","Ab2","Ag","Ak1","Ak2","Ak3"],"range":[1.3,1.2,3.2,2.0,1.4,1.4,1.4]},"legend":null}}},
{"data":{"name":"marks"},"transform":[{"filter":"datum.p==='A' && datum.k==='tick'"}],"mark":{"type":"rule","color":"#777777","strokeWidth":1},"encoding":{"y2":{"field":"F2"}}},
{"data":{"name":"marks"},"transform":[{"filter":"datum.p==='A' && datum.k==='bar'"}],"mark":{"type":"rule","color":"#111111","strokeWidth":2},"encoding":{"y2":{"field":"F2"}}},
{"data":{"name":"marks"},"transform":[{"filter":"datum.p==='A' && datum.k==='bar'"}],"mark":{"type":"rule","color":"#111111","strokeWidth":2},"encoding":{"x2":{"field":"t2"}}},
{"data":{"name":"labels"},"transform":[{"filter":"datum.p==='A' && datum.k==='title'"}],"mark":{"type":"text","fontSize":31,"font":"Liberation Sans","align":"center","baseline":"alphabetic","color":"#1a1a1a"},"encoding":{"text":{"field":"txt"}}},
{"data":{"name":"labels"},"transform":[{"filter":"datum.p==='A' && datum.k==='letter'"}],"mark":{"type":"text","fontSize":28,"font":"Liberation Sans","align":"center","baseline":"alphabetic","color":"#1a1a1a"},"encoding":{"text":{"field":"txt"}}},
{"data":{"name":"labels"},"transform":[{"filter":"datum.p==='A' && datum.k==='head'"}],"mark":{"type":"text","fontSize":17,"font":"Liberation Sans","align":"center","baseline":"alphabetic","color":"#1a1a1a"},"encoding":{"text":{"field":"txt"}}},
{"data":{"name":"labels"},"transform":[{"filter":"datum.p==='A' && datum.k==='conc'"}],"mark":{"type":"text","fontSize":17,"font":"Liberation Sans","align":"right","baseline":"alphabetic","color":"#1a1a1a"},"encoding":{"text":{"field":"txt"}}},
{"data":{"name":"labels"},"transform":[{"filter":"datum.p==='A' && datum.k==='sup'"}],"mark":{"type":"text","fontSize":11,"font":"Liberation Sans","align":"left","baseline":"alphabetic","color":"#1a1a1a"},"encoding":{"text":{"field":"txt"}}},
{"data":{"name":"labels"},"transform":[{"filter":"datum.p==='A' && datum.k==='scale'"}],"mark":{"type":"text","fontSize":17,"font":"Liberation Sans","align":"right","baseline":"alphabetic","color":"#1a1a1a"},"encoding":{"text":{"field":"txt"}}}
]
},
{
"width":709,"height":220,
"encoding":{
"x":{"field":"t","type":"quantitative","scale":{"domain":[-16.25,101.92],"nice":false,"zero":false},"axis":null},
"y":{"field":"F","type":"quantitative","scale":{"domain":[-1.667,28.89],"nice":false,"zero":false},"axis":null}
},
"layer":[
{"data":{"name":"traces"},"transform":[{"filter":"datum.p==='B' && isValid(datum.lo)"}],
"mark":{"type":"area","opacity":0.7},
"encoding":{"y":{"field":"lo","type":"quantitative","scale":{"domain":[-1.667,28.89],"nice":false,"zero":false},"axis":null},"y2":{"field":"hi"},"detail":{"field":"b"},
"color":{"field":"s","type":"nominal","scale":{"domain":["red","blue","green","black"],"range":["#ff4a4a","#0000ff","#44cc44","#000000"]},"legend":null}}},
{"data":{"name":"traces"},"transform":[{"filter":"datum.p==='B' && isValid(datum.F)"}],
"mark":{"type":"line","strokeJoin":"round","strokeCap":"round"},
"encoding":{"detail":{"field":"id"},
"color":{"field":"s","type":"nominal","scale":{"domain":["red","blue","green","black"],"range":["#ff4a4a","#0000ff","#44cc44","#000000"]},"legend":null},
"strokeWidth":{"field":"id","type":"nominal","scale":{"domain":["Br","Bb","Bg","Bk1","Bk2","Bk3"],"range":[1.1,1.3,1.3,1.1,1.6,1.1]},"legend":null}}},
{"data":{"name":"marks"},"transform":[{"filter":"datum.p==='B' && datum.k==='tick'"}],"mark":{"type":"rule","color":"#777777","strokeWidth":1},"encoding":{"y2":{"field":"F2"}}},
{"data":{"name":"marks"},"transform":[{"filter":"datum.p==='B' && datum.k==='bar'"}],"mark":{"type":"rule","color":"#111111","strokeWidth":2},"encoding":{"y2":{"field":"F2"}}},
{"data":{"name":"marks"},"transform":[{"filter":"datum.p==='B' && datum.k==='bar'"}],"mark":{"type":"rule","color":"#111111","strokeWidth":2},"encoding":{"x2":{"field":"t2"}}},
{"data":{"name":"labels"},"transform":[{"filter":"datum.p==='B' && datum.k==='letter'"}],"mark":{"type":"text","fontSize":28,"font":"Liberation Sans","align":"center","baseline":"alphabetic","color":"#1a1a1a"},"encoding":{"text":{"field":"txt"}}},
{"data":{"name":"labels"},"transform":[{"filter":"datum.p==='B' && datum.k==='head'"}],"mark":{"type":"text","fontSize":17,"font":"Liberation Sans","align":"center","baseline":"alphabetic","color":"#1a1a1a"},"encoding":{"text":{"field":"txt"}}},
{"data":{"name":"labels"},"transform":[{"filter":"datum.p==='B' && datum.k==='conc'"}],"mark":{"type":"text","fontSize":17,"font":"Liberation Sans","align":"right","baseline":"alphabetic","color":"#1a1a1a"},"encoding":{"text":{"field":"txt"}}},
{"data":{"name":"labels"},"transform":[{"filter":"datum.p==='B' && datum.k==='sup'"}],"mark":{"type":"text","fontSize":11,"font":"Liberation Sans","align":"left","baseline":"alphabetic","color":"#1a1a1a"},"encoding":{"text":{"field":"txt"}}},
{"data":{"name":"labels"},"transform":[{"filter":"datum.p==='B' && datum.k==='scale'"}],"mark":{"type":"text","fontSize":17,"font":"Liberation Sans","align":"right","baseline":"alphabetic","color":"#1a1a1a"},"encoding":{"text":{"field":"txt"}}}
]
},
{
"width":709,"height":286,
"encoding":{
"x":{"field":"t","type":"quantitative","scale":{"domain":[-16.25,101.92],"nice":false,"zero":false},"axis":null},
"y":{"field":"F","type":"quantitative","scale":{"domain":[-9.03,30.69],"nice":false,"zero":false},"axis":null}
},
"layer":[
{"data":{"name":"traces"},"transform":[{"filter":"datum.p==='C' && isValid(datum.F)"}],
"mark":{"type":"line","strokeJoin":"round","color":"#222222","strokeWidth":1},
"encoding":{"detail":{"field":"id"}}},
{"data":{"name":"marks"},"transform":[{"filter":"datum.p==='C' && datum.k==='tick'"}],"mark":{"type":"rule","color":"#777777","strokeWidth":1},"encoding":{"y2":{"field":"F2"}}},
{"data":{"name":"marks"},"transform":[{"filter":"datum.p==='C' && datum.k==='bar'"}],"mark":{"type":"rule","color":"#111111","strokeWidth":2},"encoding":{"y2":{"field":"F2"}}},
{"data":{"name":"marks"},"transform":[{"filter":"datum.p==='C' && datum.k==='bar'"}],"mark":{"type":"rule","color":"#111111","strokeWidth":2},"encoding":{"x2":{"field":"t2"}}},
{"data":{"name":"labels"},"transform":[{"filter":"datum.p==='C' && datum.k==='letter'"}],"mark":{"type":"text","fontSize":28,"font":"Liberation Sans","align":"center","baseline":"alphabetic","color":"#1a1a1a"},"encoding":{"text":{"field":"txt"}}},
{"data":{"name":"labels"},"transform":[{"filter":"datum.p==='C' && datum.k==='head'"}],"mark":{"type":"text","fontSize":17,"font":"Liberation Sans","align":"center","baseline":"alphabetic","color":"#1a1a1a"},"encoding":{"text":{"field":"txt"}}},
{"data":{"name":"labels"},"transform":[{"filter":"datum.p==='C' && datum.k==='conc'"}],"mark":{"type":"text","fontSize":17,"font":"Liberation Sans","align":"right","baseline":"alphabetic","color":"#1a1a1a"},"encoding":{"text":{"field":"txt"}}},
{"data":{"name":"labels"},"transform":[{"filter":"datum.p==='C' && datum.k==='sup'"}],"mark":{"type":"text","fontSize":11,"font":"Liberation Sans","align":"left","baseline":"alphabetic","color":"#1a1a1a"},"encoding":{"text":{"field":"txt"}}},
{"data":{"name":"labels"},"transform":[{"filter":"datum.p==='C' && datum.k==='scale'"}],"mark":{"type":"text","fontSize":17,"font":"Liberation Sans","align":"right","baseline":"alphabetic","color":"#1a1a1a"},"encoding":{"text":{"field":"txt"}}}
]
},
{
"hconcat":[
{"width":160,"height":159,"data":{"name":"labels"},"transform":[{"filter":"datum.p==='D'"}],
"mark":{"type":"text","fontSize":28,"font":"Liberation Sans","align":"center","baseline":"alphabetic","color":"#1a1a1a"},
"encoding":{"x":{"field":"t","type":"quantitative","scale":{"domain":[0,160],"nice":false,"zero":false},"axis":null},
"y":{"field":"F","type":"quantitative","scale":{"domain":[0,100],"nice":false,"zero":false},"axis":null},
"text":{"field":"txt"}}},
{"width":340,"height":159,
"resolve":{"scale":{"x":"independent"}},
"layer":[
{
"encoding":{
"x":{"field":"cat","type":"nominal","sort":["HMR 1556","Chromanol 293B","Control"],"scale":{"paddingInner":0.35,"paddingOuter":0.11,"align":0.92},"axis":{"title":null}},
"y":{"field":"m","type":"quantitative","title":["% Reversal of RL-3","relaxation"],"scale":{"domain":[0,100],"nice":false},"axis":{"values":[0,50,100],"titleLineHeight":25,"titlePadding":-4}}
},
"layer":[
{"data":{"name":"bars"},"mark":{"type":"bar","stroke":"#000000","strokeWidth":2,"width":77},
"encoding":{"fill":{"field":"cat","type":"nominal","scale":{"domain":["HMR 1556","Chromanol 293B","Control"],"range":["#9b9b9b","#ffffff","#ffffff"]},"legend":null}}},
{"data":{"name":"bars"},"mark":{"type":"rule","color":"#000000","strokeWidth":2},
"encoding":{"y":{"field":"lo","type":"quantitative","title":["% Reversal of RL-3","relaxation"],"axis":{"values":[0,50,100],"titleLineHeight":25,"titlePadding":-4}},"y2":{"field":"hi"}}},
{"data":{"name":"bars"},"mark":{"type":"tick","orient":"horizontal","size":28,"thickness":2,"color":"#000000","opacity":1},
"encoding":{"y":{"field":"hi","type":"quantitative","title":["% Reversal of RL-3","relaxation"],"axis":{"values":[0,50,100],"titleLineHeight":25,"titlePadding":-4}}}},
{"data":{"name":"bars"},"transform":[{"filter":"datum.lo > 0"}],"mark":{"type":"tick","orient":"horizontal","size":28,"thickness":2,"color":"#000000","opacity":1},
"encoding":{"y":{"field":"lo","type":"quantitative","title":["% Reversal of RL-3","relaxation"],"axis":{"values":[0,50,100],"titleLineHeight":25,"titlePadding":-4}}}}
]
},
{"data":{"name":"pts"},"mark":{"type":"point","filled":true,"color":"#000000","opacity":1,"size":70},
"encoding":{
"x":{"field":"cat","type":"nominal","sort":["HMR 1556","Chromanol 293B","Control"],"scale":{"paddingInner":0.35,"paddingOuter":0.11,"align":0.92},"axis":null},
"y":{"field":"v","type":"quantitative","title":["% Reversal of RL-3","relaxation"],"scale":{"domain":[0,100],"nice":false},"axis":{"values":[0,50,100],"titleLineHeight":25,"titlePadding":-4}},
"xOffset":{"field":"col","type":"nominal","scale":{"domain":["L4","L3","L2","L1","C","R1","R2","R3","R4"],"range":[12.65,63.05],"paddingInner":0,"paddingOuter":0}},
"shape":{"field":"cat","type":"nominal","scale":{"domain":["HMR 1556","Chromanol 293B","Control"],"range":["circle","square","triangle-down"]},"legend":null}}}
]
}
],
"spacing":0,"bounds":"flush"
}
],
"spacing":0,"bounds":"flush"
}
